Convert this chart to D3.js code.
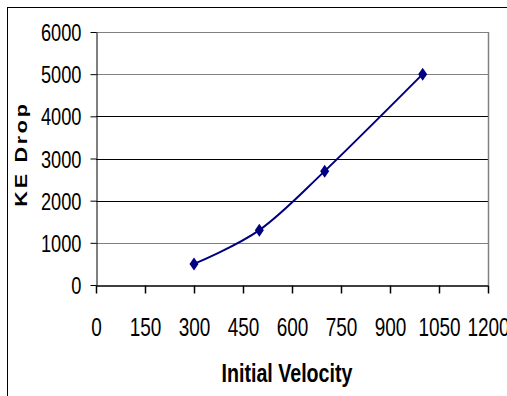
<!DOCTYPE html>
<html>
<head>
<meta charset="utf-8">
<script src="https://cdn.jsdelivr.net/npm/d3@7"></script>
<style>
  html, body { margin: 0; padding: 0; background: #fff; }
  svg { display: block; }
  text { font-family: "Liberation Sans", Arial, sans-serif; fill: #000; }
</style>
</head>
<body>
<svg id="chart" width="507" height="396"></svg>
<script>
// Initial velocity vs. kinetic energy drop
const velocity = [300, 500, 700, 1000];
const keDrop = [500, 1300, 2700, 5000];
const xTicks = [0, 150, 300, 450, 600, 750, 900, 1050, 1200];
const yTicks = [0, 1000, 2000, 3000, 4000, 5000, 6000];
const xTitle = "Initial Velocity";
const yTitle = "KE Drop";

const W = 507, H = 396;
const plot = { left: 96, top: 32, right: 488, bottom: 285 };
const svg = d3.select("#chart");

// outer chart frame
svg.append("rect")
  .attr("x", 7.5).attr("y", 7.5)
  .attr("width", W).attr("height", H)
  .attr("fill", "none").attr("stroke", "#000").attr("stroke-width", 1);

const x = d3.scaleLinear().domain([0, 1200]).range([plot.left, plot.right]);
const y = d3.scaleLinear().domain([0, 6000]).range([plot.bottom, plot.top]);

// horizontal gridlines
const gridShade = d => (d === 1000 || d === 5000 || d === 6000) ? "#808080" : "#000";
svg.append("g").selectAll("line")
  .data(yTicks.filter(d => d > 0))
  .join("line")
  .attr("x1", plot.left).attr("x2", plot.right)
  .attr("y1", d => Math.round(y(d)) + 0.5).attr("y2", d => Math.round(y(d)) + 0.5)
  .attr("stroke", gridShade).attr("stroke-width", 1);

// right edge of plot area
svg.append("line")
  .attr("x1", plot.right + 0.5).attr("x2", plot.right + 0.5)
  .attr("y1", plot.top).attr("y2", plot.bottom)
  .attr("stroke", "#808080").attr("stroke-width", 1.5);

// text is drawn narrow (horizontally condensed)
const sxTick = 0.73;

// x axis
const gx = svg.append("g")
  .attr("transform", `translate(0,${plot.bottom + 0.5})`)
  .call(d3.axisBottom(x).tickValues(xTicks).tickSize(8).tickSizeOuter(0).tickFormat(d3.format("d")));
gx.select(".domain").attr("stroke", "#000").attr("stroke-width", 1.5);
gx.selectAll(".tick line").attr("stroke", "#000").attr("stroke-width", 1.5);
gx.selectAll(".tick text")
  .attr("y", 0).attr("dy", 0)
  .attr("transform", `translate(0,50.5) scale(${sxTick},1)`)
  .style("font-size", "26px");

// y axis
const gy = svg.append("g")
  .attr("transform", `translate(${plot.left + 0.5},0)`)
  .call(d3.axisLeft(y).tickValues(yTicks).tickSize(6).tickSizeOuter(0).tickFormat(d3.format("d")));
gy.select(".domain").attr("stroke", "#000").attr("stroke-width", 1);
gy.selectAll(".tick line").attr("stroke", "#000").attr("stroke-width", 1);
gy.selectAll(".tick text")
  .attr("x", 0).attr("dy", "0.36em")
  .attr("transform", `translate(-15,0) scale(0.76,1)`)
  .style("font-size", "24px");

// series line (smoothed) and diamond markers
const pts = velocity.map((v, i) => [v, keDrop[i]]);
const line = d3.line()
  .x(d => x(d[0])).y(d => y(d[1]))
  .curve(d3.curveCatmullRom.alpha(0));
svg.append("path")
  .datum(pts)
  .attr("d", line)
  .attr("fill", "none").attr("stroke", "#000080").attr("stroke-width", 2);

svg.append("g").selectAll("path")
  .data(pts)
  .join("path")
  .attr("transform", d => `translate(${x(d[0])},${y(d[1])})`)
  .attr("d", "M0,-6.5L4.5,0L0,6.5L-4.5,0Z")
  .attr("fill", "#000080");

// axis titles
svg.append("text")
  .attr("transform", `translate(287,382) scale(0.755,1)`)
  .attr("text-anchor", "middle")
  .style("font-size", "26px").style("font-weight", "bold")
  .text(xTitle);

svg.append("text")
  .attr("transform", `translate(27,154) rotate(-90) scale(1.35,1)`)
  .attr("text-anchor", "middle")
  .style("font-size", "16px").style("font-weight", "bold")
  .style("letter-spacing", "2px")
  .text(yTitle);
</script>
</body>
</html>
